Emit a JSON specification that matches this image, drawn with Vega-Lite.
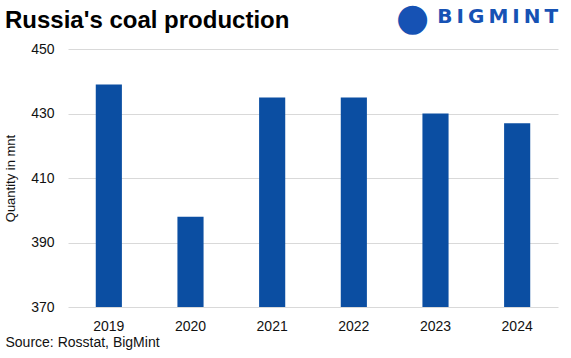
{
  "$schema": "https://vega.github.io/schema/vega-lite/v6.json",
  "width": 490,
  "height": 258,
  "autosize": {"type": "none"},
  "padding": {"left": 68, "top": 49, "right": 13, "bottom": 51},
  "background": "white",
  "title": {
    "text": "Russia's coal production",
    "anchor": "start",
    "frame": "group",
    "dx": -63,
    "offset": -33,
    "fontSize": 24,
    "font": "Liberation Sans",
    "fontWeight": "bold",
    "color": "#000000"
  },
  "config": {
    "view": {"stroke": null},
    "font": "Liberation Sans"
  },
  "data": {
    "values": [
      {"year": "2019", "value": 439},
      {"year": "2020", "value": 398},
      {"year": "2021", "value": 435},
      {"year": "2022", "value": 435},
      {"year": "2023", "value": 430},
      {"year": "2024", "value": 427}
    ]
  },
  "layer": [
    {
      "mark": {"type": "bar", "color": "#0b4ea2"},
      "encoding": {
        "x": {
          "field": "year",
          "type": "ordinal",
          "scale": {"paddingInner": 0.68, "paddingOuter": 0.34},
          "axis": {
            "labelAngle": 0,
            "labelFontSize": 14,
            "labelColor": "#111111",
            "labelPadding": 12,
            "ticks": false,
            "domain": false,
            "title": "Source: Rosstat, BigMint",
            "titleFontSize": 14,
            "titleFontWeight": "normal",
            "titleColor": "#111111",
            "titleAnchor": "start",
            "titleAlign": "left",
            "titleX": -63,
            "titlePadding": 2
          }
        },
        "y": {
          "field": "value",
          "type": "quantitative",
          "scale": {"domain": [370, 450], "zero": false, "nice": false},
          "axis": {
            "values": [370, 390, 410, 430, 450],
            "labelFontSize": 14,
            "labelColor": "#111111",
            "labelPadding": 14,
            "ticks": false,
            "domain": false,
            "gridColor": "#d9d9d9",
            "title": "Quantity in mnt",
            "titleFontSize": 13,
            "titleFontWeight": "normal",
            "titleColor": "#111111",
            "titlePadding": 13
          }
        },
        "y2": {"datum": 370}
      }
    },
    {
      "data": {"values": [{"logo": "B\u2009I\u2009G\u2009M\u2009I\u2009N\u2009T"}]},
      "mark": {
        "type": "text",
        "align": "right",
        "baseline": "middle",
        "fontSize": 20,
        "fontWeight": "bold",
        "font": "DejaVu Sans",
        "color": "#1652b4",
        "dx": 41,
        "clip": false
      },
      "encoding": {
        "x": {"datum": "2024", "type": "ordinal", "band": 0.5},
        "y": {"datum": 460},
        "text": {"field": "logo"}
      }
    },
    {
      "data": {"values": [{"logo": "\u25cf"}]},
      "mark": {
        "type": "text",
        "align": "right",
        "baseline": "middle",
        "fontSize": 38,
        "font": "DejaVu Sans",
        "color": "#1652b4",
        "dx": -88,
        "dy": 2,
        "clip": false
      },
      "encoding": {
        "x": {"datum": "2024", "type": "ordinal", "band": 0.5},
        "y": {"datum": 460},
        "text": {"field": "logo"}
      }
    }
  ]
}
